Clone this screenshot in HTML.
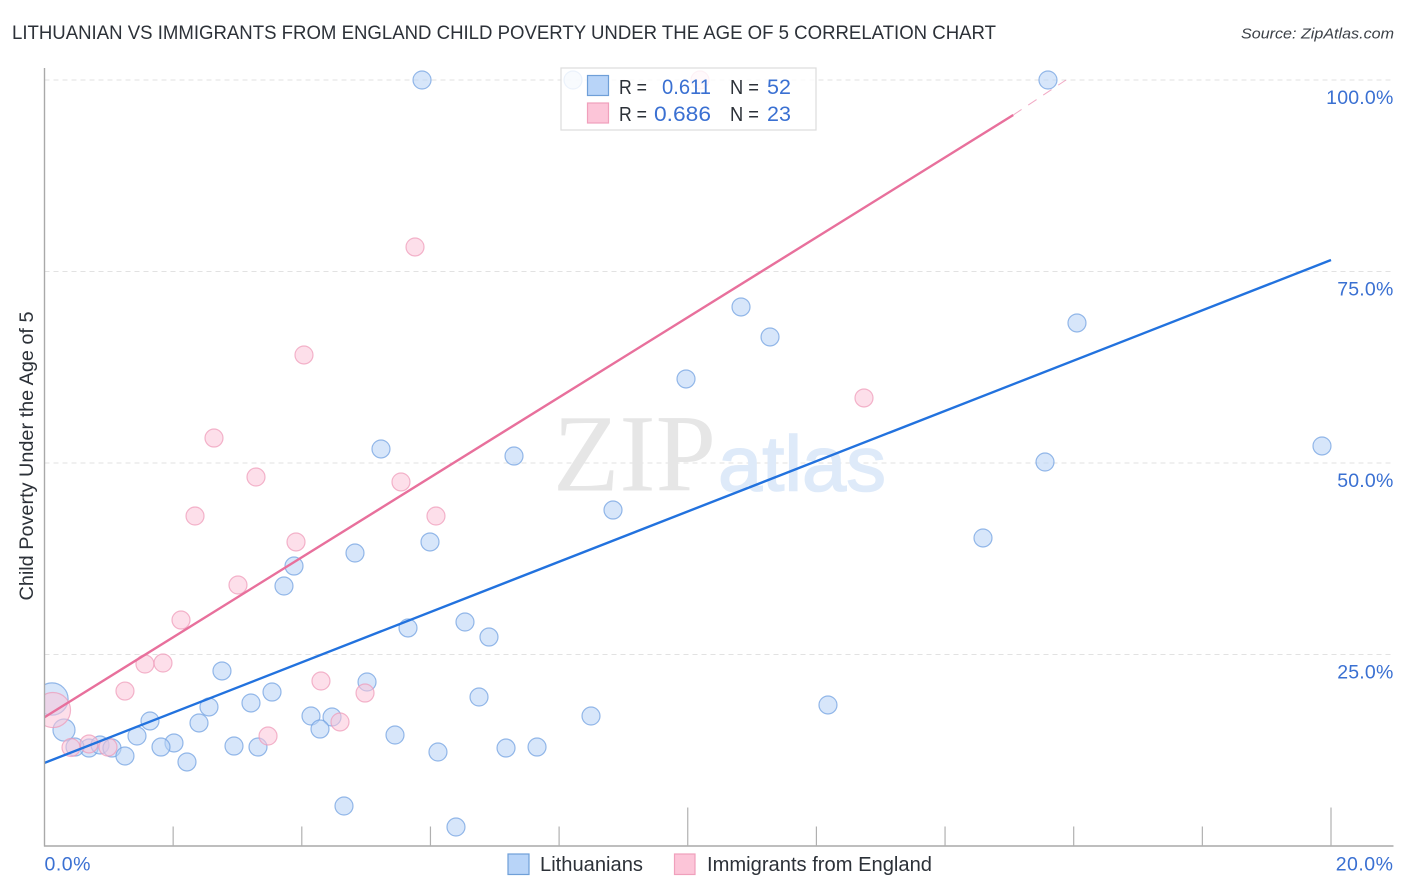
<!DOCTYPE html>
<html>
<head>
<meta charset="utf-8">
<title>Lithuanian vs Immigrants from England Child Poverty Correlation Chart</title>
<style>
html,body{margin:0;padding:0;background:#fff;}
svg{display:block;font-family:"Liberation Sans",sans-serif;}
</style>
</head>
<body>
<svg id="chart" xmlns="http://www.w3.org/2000/svg" width="1406" height="892" viewBox="0 0 1406 892">
  <defs>
    <clipPath id="plot-clip"><rect x="44.5" y="60" width="1350" height="786"/></clipPath>
  </defs>
  <rect x="0" y="0" width="1406" height="892" fill="#fff"/>
  <text x="12" y="39" font-size="19.5" fill="#2c3138" textLength="984" lengthAdjust="spacingAndGlyphs">LITHUANIAN VS IMMIGRANTS FROM ENGLAND CHILD POVERTY UNDER THE AGE OF 5 CORRELATION CHART</text>
  <text x="1394" y="38.5" font-size="15" font-style="italic" fill="#3c4148" text-anchor="end" textLength="153" lengthAdjust="spacingAndGlyphs">Source: ZipAtlas.com</text>
  <g id="grid"></g>
  <g>
    <text x="553" y="490.5" font-family="'Liberation Serif',serif" font-size="110" fill="#e6e6e6" textLength="163" lengthAdjust="spacingAndGlyphs">ZIP</text>
    <text x="718" y="490.5" font-family="'Liberation Sans',sans-serif" font-size="78" fill="#deeaf9" stroke="#deeaf9" stroke-width="1.5" textLength="168" lengthAdjust="spacingAndGlyphs">atlas</text>
  </g>
  <g id="points" clip-path="url(#plot-clip)"></g>
  <g id="trends" clip-path="url(#plot-clip)"></g>
  <g id="axes"></g>
  <text transform="translate(33,456) rotate(-90)" font-size="19" fill="#2c3138" text-anchor="middle" textLength="289" lengthAdjust="spacingAndGlyphs">Child Poverty Under the Age of 5</text>

  <g>
    <rect x="561" y="68" width="255" height="62" fill="#fff" fill-opacity="0.82" stroke="#dcdcdc" stroke-width="1.2"/>
    <rect x="587.5" y="75.5" width="21" height="20" fill="#b8d4f8" stroke="#6f9fd8" stroke-width="1.2"/>
    <rect x="587.5" y="103" width="21" height="20" fill="#fcc5d8" stroke="#f0a0bc" stroke-width="1.2"/>
    <g font-size="20.5" fill="#2c3138">
      <text x="619" y="94" textLength="28" lengthAdjust="spacingAndGlyphs">R =</text>
      <text x="730" y="94" textLength="29" lengthAdjust="spacingAndGlyphs">N =</text>
      <text x="619" y="121" textLength="28" lengthAdjust="spacingAndGlyphs">R =</text>
      <text x="730" y="121" textLength="29" lengthAdjust="spacingAndGlyphs">N =</text>
    </g>
    <g font-size="21.5" fill="#3a70d2">
      <text x="662" y="94" textLength="49" lengthAdjust="spacingAndGlyphs">0.611</text>
      <text x="767" y="94">52</text>
      <text x="654" y="121" textLength="57" lengthAdjust="spacingAndGlyphs">0.686</text>
      <text x="767" y="121">23</text>
    </g>
  </g>

  <g>
    <rect x="508" y="854" width="21" height="20.5" fill="#b8d4f8" stroke="#6f9fd8" stroke-width="1.2"/>
    <text x="540" y="871" font-size="20" fill="#2c3138" textLength="103" lengthAdjust="spacingAndGlyphs">Lithuanians</text>
    <rect x="674.5" y="854" width="20.5" height="20.5" fill="#fcc5d8" stroke="#f0a0bc" stroke-width="1.2"/>
    <text x="707" y="871" font-size="20" fill="#2c3138" textLength="225" lengthAdjust="spacingAndGlyphs">Immigrants from England</text>
  </g>
</svg>
<script>
// ---- data (percent units) ----
const xTickLabels = ['0.0%', '20.0%'];
const xTickLabelValues = [0, 20];
const xMinorTicks = [2, 4, 6, 8, 12, 14, 16, 18];
const xMajorTicks = [10, 20];
const yTickValues = [100, 75, 50, 25];
const yTickLabels = ['100.0%', '75.0%', '50.0%', '25.0%'];

const lithuanianX = [5.869, 8.216, 15.60, 10.828, 11.279, 16.051, 9.973, 19.860, 5.231, 7.299, 15.554, 8.838, 14.590, 5.993, 4.827, 3.879, 3.723, 6.537, 5.651, 6.910, 2.759, 5.014, 3.537, 6.755, 3.210, 12.180, 2.557, 8.496, 4.143, 4.470, 1.640, 2.402, 4.283, 0.303, 5.449, 1.438, 2.013, 1.811, 2.946, 3.319, 7.175, 7.657, 0.692, 0.474, 0.863, 1.049, 6.117, 1.251, 2.215, 4.656, 6.397, 0.117];
const lithuanianY = [100, 100, 100, 70.37, 66.45, 68.28, 60.97, 52.22, 51.83, 50.91, 50.13, 43.86, 40.21, 39.69, 38.25, 36.55, 33.94, 29.24, 28.46, 27.28, 22.85, 21.41, 20.10, 19.45, 18.67, 18.41, 18.15, 16.97, 16.97, 16.84, 16.32, 16.06, 15.27, 15.14, 14.49, 14.36, 13.45, 12.92, 13.05, 12.92, 12.79, 12.92, 12.79, 12.92, 13.19, 12.79, 12.27, 11.75, 10.97, 5.22, 2.48, 19.19];
const lithuanianWeight = [1, 1, 1, 1, 1, 1, 1, 1, 1, 1, 1, 1, 1, 1, 1, 1, 1, 1, 1, 1, 1, 1, 1, 1, 1, 1, 1, 1, 1, 1, 1, 1, 1, 1.5, 1, 1, 1, 1, 1, 1, 1, 1, 1, 1, 1, 1, 1, 1, 1, 1, 1, 3.2];

const immigrantX = [0.132, 0.412, 0.692, 0.987, 1.251, 1.562, 1.842, 2.122, 2.340, 2.635, 3.008, 3.288, 3.475, 3.910, 4.034, 4.298, 4.594, 4.983, 5.542, 5.760, 6.086, 12.740, 10.190];
const immigrantY = [17.75, 12.86, 13.32, 12.92, 20.23, 23.76, 23.89, 29.50, 43.08, 53.26, 34.07, 48.17, 14.36, 39.69, 64.10, 21.54, 16.19, 19.97, 47.52, 78.20, 43.08, 58.49, 100];
const immigrantWeight = [3.8, 1, 1, 1, 1, 1, 1, 1, 1, 1, 1, 1, 1, 1, 1, 1, 1, 1, 1, 1, 1, 1, 1];

const lithuanianTrendX = [0, 20];
const lithuanianTrendY = [10.85, 76.5];
const immigrantTrendSolidX = [0, 15.06];
const immigrantTrendSolidY = [16.81, 95.43];
const immigrantTrendDashX = [15.06, 15.88];
const immigrantTrendDashY = [95.43, 100];

// ---- axis functions ----
function xScale(v) { return 44.5 + v * 64.325; }
function yScale(v) { return 846 - v * 7.66; }
function rScale(w) { return 9 * Math.sqrt(w); }

const NS = 'http://www.w3.org/2000/svg';
function mk(tag, parent, attrs) {
  const el = document.createElementNS(NS, tag);
  for (const k in attrs) el.setAttribute(k, attrs[k]);
  parent.appendChild(el);
  return el;
}

const grid = document.getElementById('grid');
const axes = document.getElementById('axes');
const points = document.getElementById('points');
const trends = document.getElementById('trends');

yTickValues.forEach(function (v, i) {
  const line = mk('line', grid, { x1: 44.5, x2: 1393, y1: yScale(v), y2: yScale(v), stroke: '#e2e2e2', 'stroke-width': 1, 'stroke-dasharray': '5 4' });
  
  
  const label = mk('text', axes, { x: 1393.5, y: yScale(v) + 24, 'font-size': 19.5, fill: '#3a70d2', 'text-anchor': 'end', 'letter-spacing': 0.2 });
  
  
  label.textContent = yTickLabels[i];
});

const yAxis = mk('line', axes, { x1: 44.5, x2: 44.5, y1: 68, y2: 846.5, stroke: '#a9a9a9', 'stroke-width': 1.4 });


const xAxis = mk('line', axes, { x1: 44, x2: 1393.5, y1: 846, y2: 846, stroke: '#a9a9a9', 'stroke-width': 1.4 });



xMinorTicks.forEach(function (v) {
  const t = mk('line', axes, { x1: xScale(v), x2: xScale(v), y1: 826.5, y2: 846, stroke: '#b0b0b0', 'stroke-width': 1.2 });
  
  
});
xMajorTicks.forEach(function (v) {
  const t = mk('line', axes, { x1: xScale(v), x2: xScale(v), y1: 807.5, y2: 846, stroke: '#b0b0b0', 'stroke-width': 1.2 });
  
  
});
xTickLabelValues.forEach(function (v, i) {
  const label = mk('text', axes, { x: i === 0 ? xScale(v) : 1393.5, y: 870.5, 'font-size': 19.5, fill: '#3a70d2', 'text-anchor': i === 0 ? 'start' : 'end', 'letter-spacing': 0.5 });
  
  
  label.textContent = xTickLabels[i];
});

lithuanianX.forEach(function (v, i) {
  const c = mk('circle', points, { cx: xScale(v), cy: yScale(lithuanianY[i]), r: rScale(lithuanianWeight[i]), fill: '#b6d2f5', 'fill-opacity': 0.55, stroke: '#6f9fe0', 'stroke-opacity': 0.72, 'stroke-width': 1.2 });
  
  
});
immigrantX.forEach(function (v, i) {
  const c = mk('circle', points, { cx: xScale(v), cy: yScale(immigrantY[i]), r: rScale(immigrantWeight[i]), fill: '#fcc5d8', 'fill-opacity': 0.55, stroke: '#ee9ab8', 'stroke-opacity': 0.72, 'stroke-width': 1.2 });
  
  
});

const immigrantDash = mk('line', trends, { x1: xScale(immigrantTrendDashX[0]), y1: yScale(immigrantTrendDashY[0]), x2: xScale(immigrantTrendDashX[1]), y2: yScale(immigrantTrendDashY[1]), stroke: '#e8709c', 'stroke-width': 1, 'stroke-opacity': 0.6, 'stroke-dasharray': '10 8' });


const immigrantLine = mk('line', trends, { x1: xScale(immigrantTrendSolidX[0]), y1: yScale(immigrantTrendSolidY[0]), x2: xScale(immigrantTrendSolidX[1]), y2: yScale(immigrantTrendSolidY[1]), stroke: '#e8709c', 'stroke-width': 2.4 });


const lithuanianLine = mk('line', trends, { x1: xScale(lithuanianTrendX[0]), y1: yScale(lithuanianTrendY[0]), x2: xScale(lithuanianTrendX[1]), y2: yScale(lithuanianTrendY[1]), stroke: '#2272de', 'stroke-width': 2.4 });


</script>
</body>
</html>
